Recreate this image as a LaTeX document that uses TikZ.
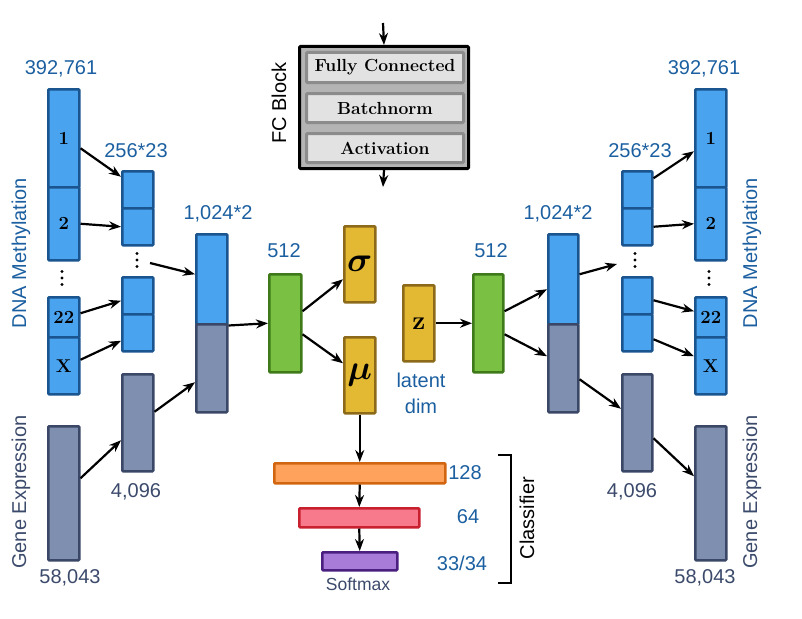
\documentclass[tikz,border=0pt]{standalone}
\usepackage{fontspec}
\setsansfont{Liberation Sans}
\usepackage{bm}
\usepackage{graphicx}
\usetikzlibrary{arrows.meta,calc}
\definecolor{bfill}{HTML}{4AA3EF}
\definecolor{bdraw}{HTML}{1A5590}
\definecolor{gfill}{HTML}{7F8FB0}
\definecolor{gdraw}{HTML}{3A4766}
\definecolor{grfill}{HTML}{7AC143}
\definecolor{grdraw}{HTML}{3F7A1A}
\definecolor{yfill}{HTML}{E3B832}
\definecolor{ydraw}{HTML}{8C6A1A}
\definecolor{ofill}{HTML}{FFA35C}
\definecolor{odraw}{HTML}{D2650F}
\definecolor{rfill}{HTML}{F77A8C}
\definecolor{rdraw}{HTML}{C8202F}
\definecolor{pfill}{HTML}{A97BD9}
\definecolor{pdraw}{HTML}{4B1F80}
\definecolor{lblue}{HTML}{1B5FA0}
\definecolor{lslate}{HTML}{3B4A6B}
\definecolor{fcout}{HTML}{B4B4B4}
\definecolor{fcin}{HTML}{E2E2E2}
\definecolor{fcinb}{HTML}{8C8C8C}
\newcommand\mybox[7]{\node[#2, minimum width=#5pt-#3pt, minimum height=#6pt-#4pt] (#1) at (#3,#4) {#7};}
\newcommand\mydots[2]{\fill (#1,#2-6.5) circle (1.7) (#1,#2) circle (1.7) (#1,#2+6.5) circle (1.7);}
\newcommand\bigmath[1]{\scalebox{1.4}{$\bm{#1}$}}
\begin{document}
\begin{tikzpicture}[x=1pt,y=-1pt,
  box/.style={draw, line width=2.5pt, rounded corners=1pt, inner sep=0pt, anchor=north west,
    font=\bfseries\fontsize{18.5}{20}\selectfont},
  bluebox/.style={box, fill=bfill, draw=bdraw},
  graybox/.style={box, fill=gfill, draw=gdraw},
  greenbox/.style={box, fill=grfill, draw=grdraw},
  yellowbox/.style={box, fill=yfill, draw=ydraw, font=\bfseries\fontsize{26}{28}\selectfont},
  orangebox/.style={box, fill=ofill, draw=odraw},
  redbox/.style={box, fill=rfill, draw=rdraw},
  purplebox/.style={box, fill=pfill, draw=pdraw},
  fcouter/.style={box, fill=fcout, draw=black, line width=3pt},
  fcinner/.style={box, fill=fcin, draw=fcinb, line width=3pt, font=\bfseries\fontsize{17.5}{20}\selectfont},
  lbl/.style={font=\sffamily\fontsize{20}{24}\selectfont, text=lblue, inner sep=0pt},
  slbl/.style={lbl, text=lslate},
  arr/.style={-{Stealth[length=12pt,width=9pt]}, line width=2.2pt}
]
\useasboundingbox (0,0) rectangle (802,618);

% ---------- left encoder ----------
\mybox{L1}{bluebox}{47}{88}{78}{186}{1}
\mybox{L2}{bluebox}{47}{186}{78}{259}{2}
\mybox{L22}{bluebox}{47}{296}{78}{336}{22}
\mybox{LX}{bluebox}{47}{336}{78}{393}{X}
\mydots{62}{278}
\mybox{La1}{bluebox}{121}{170}{152}{207}{}
\mybox{La2}{bluebox}{121}{207}{152}{244}{}
\mybox{Lb1}{bluebox}{121}{276}{152}{313}{}
\mybox{Lb2}{bluebox}{121}{313}{152}{350}{}
\mydots{137}{260}
\coordinate (Ld) at (137,260);
\mybox{Lg1}{graybox}{121}{373}{152}{470}{}
\mybox{Lg0}{graybox}{47}{425}{78}{559}{}
\mybox{Lct}{bluebox}{195}{233}{226}{323}{}
\mybox{Lcb}{graybox}{195}{323}{226}{411}{}
\mybox{GL}{greenbox}{268}{273}{300}{371}{}

% ---------- latent ----------
\mybox{SG}{yellowbox}{343}{225}{374}{301}{\bigmath{\sigma}}
\mybox{MU}{yellowbox}{343}{336}{374}{412}{\bigmath{\mu}}
\mybox{Z}{yellowbox}{402}{284}{433}{360}{z}

% ---------- right decoder ----------
\mybox{GR}{greenbox}{472}{273}{502}{371}{}
\mybox{Rct}{bluebox}{547}{233}{577}{323}{}
\mybox{Rcb}{graybox}{547}{323}{577}{411}{}
\mybox{Ra1}{bluebox}{621}{170}{651}{207}{}
\mybox{Ra2}{bluebox}{621}{207}{651}{244}{}
\mybox{Rb1}{bluebox}{621}{276}{651}{313}{}
\mybox{Rb2}{bluebox}{621}{313}{651}{350}{}
\mydots{635}{260}
\coordinate (Rd) at (635,260);
\mybox{Rg1}{graybox}{621}{373}{651}{470}{}
\mybox{R1}{bluebox}{694}{88}{725}{186}{1}
\mybox{R2}{bluebox}{694}{186}{725}{259}{2}
\mybox{R22}{bluebox}{694}{296}{725}{336}{22}
\mybox{RX}{bluebox}{694}{336}{725}{393}{X}
\mydots{709}{278}
\mybox{Rg0}{graybox}{694}{425}{725}{559}{}

% ---------- classifier ----------
\mybox{OR}{orangebox}{273}{462}{444}{482}{}
\mybox{RD}{redbox}{298}{507}{418}{526}{}
\mybox{PU}{purplebox}{321}{551}{396}{569}{}

% ---------- FC block ----------
\mybox{FC}{fcouter}{298}{45}{467}{167}{}
\mybox{FC1}{fcinner}{305}{51}{462}{81}{Fully Connected}
\mybox{FC2}{fcinner}{305}{92}{462}{121}{Batchnorm}
\mybox{FC3}{fcinner}{305}{132}{462}{161}{Activation}
\coordinate (FCin) at (383,23);
\coordinate (FCout) at (383,187);

% ---------- labels ----------
\node[lbl] (t1) at (61,69) {392,761};
\node[lbl] (t2) at (704,69) {392,761};
\node[lbl] (t3) at (136,151) {256*23};
\node[lbl] (t4) at (640,151) {256*23};
\node[lbl] (t5) at (218,214) {1,024*2};
\node[lbl] (t6) at (558,214) {1,024*2};
\node[slbl] (t7) at (136,492) {4,096};
\node[slbl] (t8) at (632,492) {4,096};
\node[slbl] (t9) at (70,578) {58,043};
\node[slbl] (t10) at (705,578) {58,043};
\node[lbl] (t11) at (284,251) {512};
\node[lbl] (t12) at (491,251) {512};
\node[lbl] (t13) at (421,380) {latent};
\node[lbl] (t14) at (421,406) {dim};
\node[lbl, rotate=90] (t15) at (21,253) {DNA Methylation};
\node[lbl, rotate=90] (t16) at (752,253) {DNA Methylation};
\node[slbl, rotate=90] (t17) at (21,492) {Gene Expression};
\node[slbl, rotate=90] (t18) at (752,492) {Gene Expression};
\node[lbl, text=black, rotate=90] (t19) at (279,103) {FC Block};
\node[lbl, text=black, rotate=90] (t20) at (527,518) {Classifier};
\node[lbl] (t21) at (465,473) {128};
\node[lbl] (t22) at (468,517) {64};
\node[lbl] (t23) at (462,563) {33/34};
\node[slbl, font=\sffamily\fontsize{17.5}{20}\selectfont] (t24) at (358,584) {Softmax};

% bracket
\draw[line width=2pt] (498,455) -- (511,455) -- (511,583) -- (498,583);

% ---------- arrows left ----------
\draw[arr] ($(L1.east)+(0,10)$) -- ($(La1.west)+(0,-13)$);
\draw[arr] (L2.east) -- (La2.west);
\draw[arr] ($(Ld)+(13,3)$) -- ($(Lct.west)+(0,-5)$);
\draw[arr] ($(L22.east)+(0,-4)$) -- ($(Lb1.west)+(0,5)$);
\draw[arr] ($(LX.east)+(0,-6)$) -- ($(Lb2.west)+(0,8)$);
\draw[arr] (Lct.south east) -- (GL.west);
\draw[arr] ($(Lg1.east)+(0,-11)$) -- ($(Lcb.west)+(0,14)$);
\draw[arr] ($(Lg0.east)+(0,-15)$) -- ($(Lg1.west)+(0,17.5)$);
% ---------- arrows centre ----------
\draw[arr] ($(GL.east)+(0,-12)$) -- ($(SG.west)+(0,15)$);
\draw[arr] ($(GL.east)+(0,11)$) -- ($(MU.west)+(0,-12)$);
\draw[arr] (Z.east) -- (GR.west);
\draw[arr] (MU.south) -- (OR.north);
\draw[arr] (OR.south) -- (RD.north);
\draw[arr] (RD.south) -- (PU.north);
\draw[arr] (FCin) -- (FC.north);
\draw[arr] (FC.south) -- (FCout);
% ---------- arrows right ----------
\draw[arr] ($(GR.east)+(0,-12)$) -- ($(Rct.west)+(0,10)$);
\draw[arr] ($(GR.east)+(0,11)$) -- ($(Rcb.west)+(0,-12)$);
\draw[arr] ($(Rct.east)+(0,-5)$) -- ($(Rd)+(-18,4)$);
\draw[arr] ($(Ra1.east)+(0,-11.5)$) -- ($(R1.west)+(0,13)$);
\draw[arr] (Ra2.east) -- (R2.west);
\draw[arr] ($(Rb1.east)+(0,4.5)$) -- ($(R22.west)+(0,-6)$);
\draw[arr] ($(Rb2.east)+(0,6.5)$) -- ($(RX.west)+(0,-9.5)$);
\draw[arr] ($(Rcb.east)+(0,11)$) -- ($(Rg1.west)+(0,-14)$);
\draw[arr] ($(Rg1.east)+(0,15.5)$) -- ($(Rg0.west)+(0,-17)$);
\end{tikzpicture}
\end{document}
